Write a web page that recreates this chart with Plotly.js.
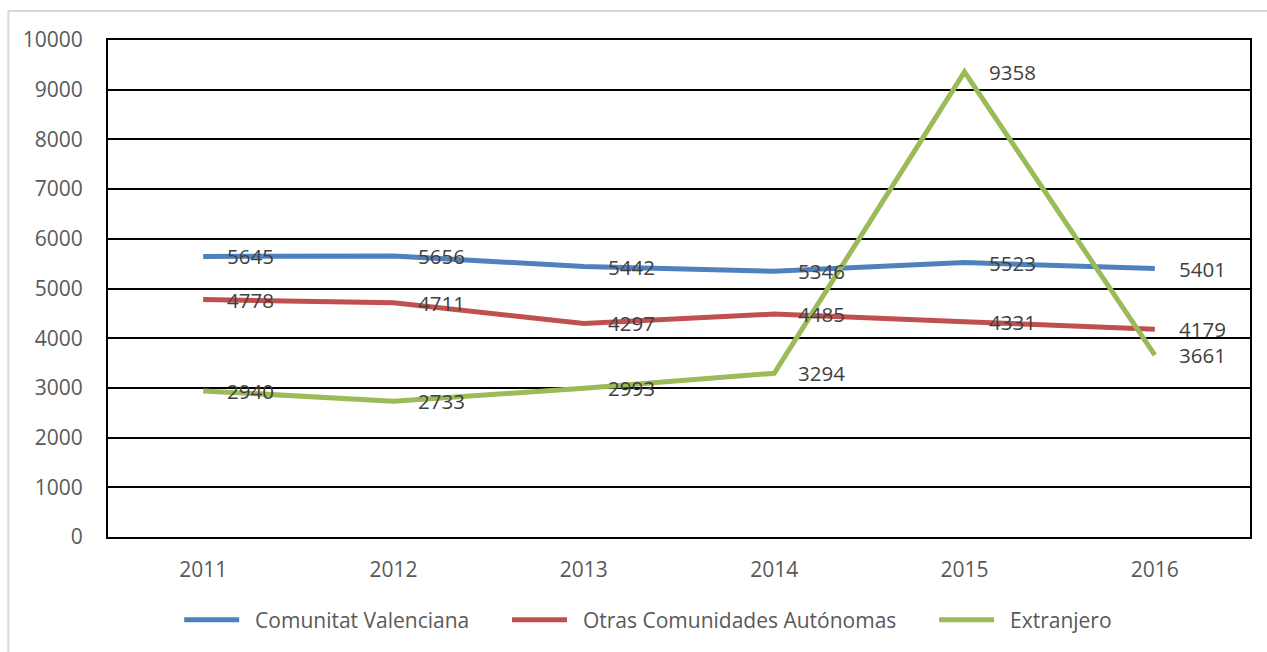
<!DOCTYPE html>
<html>
<head>
<meta charset="utf-8">
<script src="https://cdn.plot.ly/plotly-3.0.1.min.js"></script>
<style>
html,body{margin:0;padding:0;background:#fff;}
#chart{width:1267px;height:652px;}
</style>
</head>
<body>
<div id="chart"></div>
<script>
const years = ['2011','2012','2013','2014','2015','2016'];
const seriesNames = ['Comunitat Valenciana','Otras Comunidades Autónomas','Extranjero'];
const comunitatValenciana = [5645, 5656, 5442, 5346, 5523, 5401];
const otrasComunidades = [4778, 4711, 4297, 4485, 4331, 4179];
const extranjero = [2940, 2733, 2993, 3294, 9358, 3661];
const colors = ['#4F81BD', '#C0504D', '#9BBB59'];
const yTicks = [0,1000,2000,3000,4000,5000,6000,7000,8000,9000,10000];

const allSeries = [comunitatValenciana, otrasComunidades, extranjero];
const FONT = 'Open Sans, Liberation Sans, sans-serif';
const NB = '\u00A0';

const traces = allSeries.map((vals, i) => ({
  type: 'scatter',
  mode: 'lines',
  x: years,
  y: vals,
  name: NB + NB + seriesNames[i] + NB.repeat(i < 2 ? 6 : 0),
  line: {color: colors[i], width: 5},
  hoverinfo: 'skip'
}));

const annotations = [];
allSeries.forEach((vals) => {
  vals.forEach((v, j) => {
    annotations.push({
      x: j, y: v, xref: 'x', yref: 'y',
      text: String(v), showarrow: false,
      xanchor: 'left', yanchor: 'middle', xshift: 22, yshift: 0,
      font: {family: FONT, size: 20.5, color: '#404040'}
    });
  });
});

const layout = {
  width: 1267, height: 652,
  margin: {l: 108, r: 17, t: 40, b: 115},
  paper_bgcolor: '#ffffff',
  plot_bgcolor: '#ffffff',
  showlegend: true,
  legend: {
    orientation: 'h', x: 0.473, xanchor: 'center', y: -0.167, yanchor: 'middle',
    font: {family: FONT, size: 21, color: '#595959'},
    itemwidth: 55, tracegroupgap: 0
  },
  xaxis: {
    type: 'category',
    range: [-0.5, 5.5],
    showgrid: false,
    showline: true, mirror: true, linecolor: '#000000', linewidth: 2,
    ticks: '', ticklabelstandoff: 13,
    tickfont: {family: FONT, size: 21, color: '#595959'},
    fixedrange: true
  },
  yaxis: {
    range: [0, 10000],
    tickvals: yTicks,
    ticktext: yTicks.map(String),
    showgrid: true, gridcolor: '#000000', gridwidth: 2,
    zeroline: false,
    showline: true, mirror: true, linecolor: '#000000', linewidth: 2,
    ticks: '', ticklabelstandoff: 19,
    tickfont: {family: FONT, size: 21, color: '#595959'},
    fixedrange: true
  },
  annotations: annotations,
  shapes: [{
    type: 'rect', xref: 'paper', yref: 'paper',
    x0: -0.0872, x1: 1.05, y0: -0.3, y1: 1.0584,
    line: {color: '#D9D9D9', width: 2}, fillcolor: 'rgba(0,0,0,0)', layer: 'below'
  }]
};

Plotly.newPlot('chart', traces, layout, {staticPlot: true, displayModeBar: false});
</script>
</body>
</html>
